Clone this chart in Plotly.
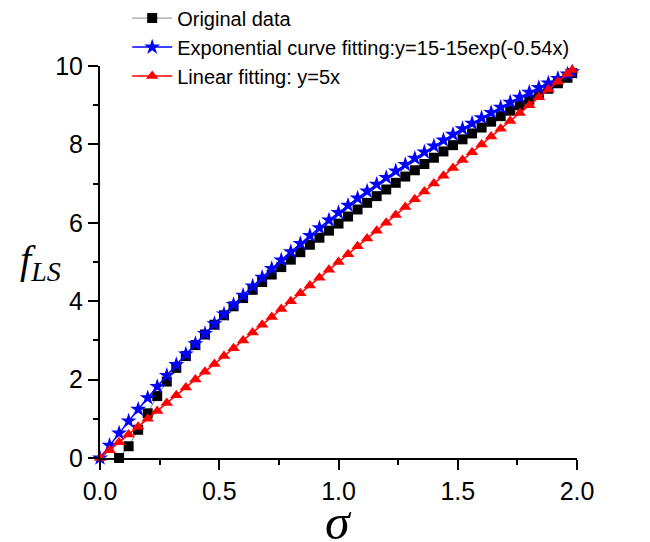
import plotly.graph_objects as go

# Data
x_orig = [0.08, 0.12, 0.16, 0.20, 0.24, 0.28, 0.32, 0.36, 0.40, 0.44, 0.48, 0.52, 0.56,
          0.60, 0.64, 0.68, 0.72, 0.76, 0.80, 0.84, 0.88, 0.92, 0.96, 1.00, 1.04, 1.08,
          1.12, 1.16, 1.20, 1.24, 1.28, 1.32, 1.36, 1.40, 1.44, 1.48, 1.52, 1.56, 1.60,
          1.64, 1.68, 1.72, 1.76, 1.80, 1.84, 1.88, 1.92, 1.96, 1.98]
y_orig = [0.0, 0.30, 0.72, 1.14, 1.58, 1.95, 2.30, 2.60, 2.88, 3.15, 3.40, 3.64, 3.87,
          4.08, 4.29, 4.49, 4.68, 4.87, 5.06, 5.25, 5.44, 5.62, 5.80, 5.98, 6.16, 6.34,
          6.51, 6.68, 6.85, 7.02, 7.18, 7.34, 7.50, 7.66, 7.82, 7.98, 8.13, 8.28, 8.43,
          8.58, 8.72, 8.86, 9.00, 9.14, 9.28, 9.42, 9.56, 9.70, 9.82]

x_fit = [0.00, 0.04, 0.08, 0.12, 0.16, 0.20, 0.24, 0.28, 0.32, 0.36, 0.40, 0.44, 0.48,
         0.52, 0.56, 0.60, 0.64, 0.68, 0.72, 0.76, 0.80, 0.84, 0.88, 0.92, 0.96, 1.00,
         1.04, 1.08, 1.12, 1.16, 1.20, 1.24, 1.28, 1.32, 1.36, 1.40, 1.44, 1.48, 1.52,
         1.56, 1.60, 1.64, 1.68, 1.72, 1.76, 1.80, 1.84, 1.88, 1.92, 1.96, 1.98]
y_exp = [0.000, 0.321, 0.634, 0.941, 1.242, 1.536, 1.823, 2.105, 2.380, 2.650, 2.914,
         3.172, 3.425, 3.672, 3.914, 4.151, 4.383, 4.610, 4.832, 5.049, 5.262, 5.470,
         5.674, 5.873, 6.068, 6.259, 6.446, 6.628, 6.807, 6.982, 7.154, 7.321, 7.485,
         7.646, 7.803, 7.957, 8.107, 8.255, 8.399, 8.540, 8.678, 8.813, 8.945, 9.075,
         9.201, 9.325, 9.446, 9.565, 9.681, 9.795, 9.851]
y_lin = [0.0, 0.2, 0.4, 0.6, 0.8, 1.0, 1.2, 1.4, 1.6, 1.8, 2.0, 2.2, 2.4, 2.6, 2.8, 3.0,
         3.2, 3.4, 3.6, 3.8, 4.0, 4.2, 4.4, 4.6, 4.8, 5.0, 5.2, 5.4, 5.6, 5.8, 6.0, 6.2,
         6.4, 6.6, 6.8, 7.0, 7.2, 7.4, 7.6, 7.8, 8.0, 8.2, 8.4, 8.6, 8.8, 9.0, 9.2, 9.4,
         9.6, 9.8, 9.9]

x_ticks = [0.0, 0.5, 1.0, 1.5, 2.0]
x_ticklabels = ["0.0", "0.5", "1.0", "1.5", "2.0"]
y_ticks = [0, 2, 4, 6, 8, 10]

FONT = "Arial, 'Liberation Sans', sans-serif"
SERIF = "'Liberation Serif', 'Times New Roman', serif"

fig = go.Figure()
fig.add_trace(go.Scatter(
    x=x_orig, y=y_orig, mode="lines+markers", name="Original data",
    line=dict(color="#888888", width=1),
    marker=dict(symbol="square", size=10, color="black"),
    cliponaxis=False))
fig.add_trace(go.Scatter(
    x=x_fit, y=y_exp, mode="lines+markers",
    name="Exponential curve fitting:y=15-15exp(-0.54x)",
    line=dict(color="blue", width=1.5),
    marker=dict(symbol="star", size=12, color="blue"),
    cliponaxis=False))
fig.add_trace(go.Scatter(
    x=x_fit, y=y_lin, mode="lines+markers", name="Linear fitting: y=5x",
    line=dict(color="red", width=1.5),
    marker=dict(symbol="triangle-up", size=11, color="red"),
    cliponaxis=False))

axis_common = dict(
    showgrid=False, zeroline=False, showline=True, linecolor="black", linewidth=2,
    ticks="outside", ticklen=10, tickwidth=2, tickcolor="black",
    tickfont=dict(family=FONT, size=25, color="black"),
    mirror=False,
)
fig.update_xaxes(range=[0, 2], tickvals=x_ticks, ticktext=x_ticklabels,
                 minor=dict(dtick=0.25, ticks="outside", ticklen=5, tickwidth=2,
                            tickcolor="black", showgrid=False),
                 **axis_common)
fig.update_yaxes(range=[0, 10], tickvals=y_ticks,
                 minor=dict(dtick=1, ticks="outside", ticklen=5, tickwidth=2,
                            tickcolor="black", showgrid=False),
                 **axis_common)

fig.add_annotation(xref="paper", yref="paper", x=-0.124, y=0.50,
                   text="<i>f</i><sub><i>LS</i></sub>", showarrow=False,
                   font=dict(family=SERIF, size=40, color="black"),
                   xanchor="center", yanchor="middle")
fig.add_annotation(xref="paper", yref="paper", x=0.5, y=-0.163,
                   text="<i>σ</i>", showarrow=False,
                   font=dict(family=SERIF, size=50, color="black"),
                   xanchor="center", yanchor="middle")

# page body has an 8px margin, so the figure is sized/offset to compensate
fig.update_layout(
    width=642, height=534,
    margin=dict(l=92, r=73, t=58, b=84, autoexpand=False),
    plot_bgcolor="white", paper_bgcolor="white",
    showlegend=True,
    legend=dict(x=0.057, y=1.172, xanchor="left", yanchor="top",
                bgcolor="rgba(0,0,0,0)", font=dict(family=FONT, size=20, color="black"),
                tracegroupgap=0, itemwidth=40),
)

fig.write_html("out.html")
